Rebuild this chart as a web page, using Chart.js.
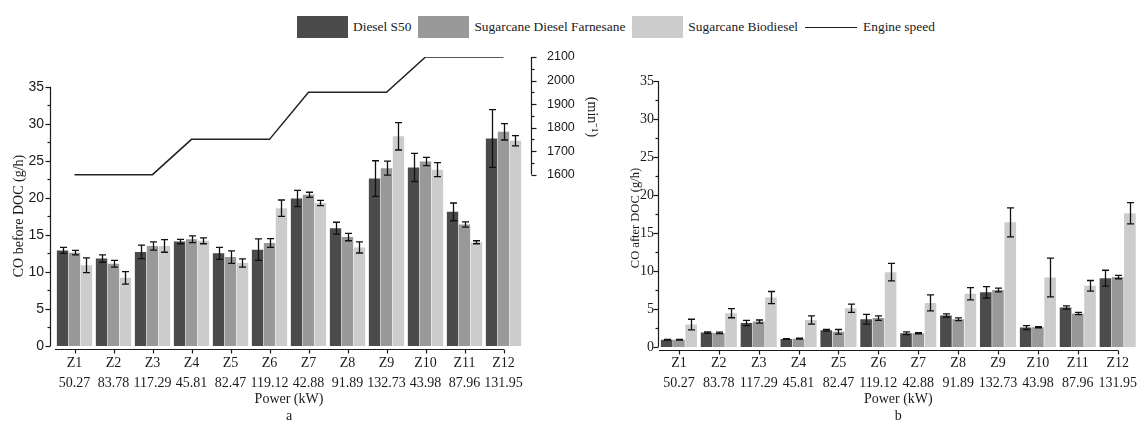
<!DOCTYPE html>
<html>
<head>
<meta charset="utf-8">
<title>CO before and after DOC</title>
<script src="https://cdn.jsdelivr.net/npm/chart.js@4.4.1/dist/chart.umd.min.js"></script>
<style>
    html, body {
        margin: 0;
        padding: 0;
        background: #fff;
        width: 1143px;
        height: 421px;
        overflow: hidden;
        position: relative;
    }
    #legend {
        position: absolute;
        left: 297px;
        top: 16px;
        height: 22px;
        display: flex;
        align-items: center;
        font: 13.4px "Liberation Serif", "Times New Roman", serif;
        color: #1a1a1a;
        white-space: nowrap;
    }
    #legend .item { display: flex; align-items: center; margin-right: 7px; }
    #legend .box { width: 51px; height: 22px; margin-right: 5px; }
    #legend .line { width: 52px; border-top: 1.5px solid #1a1a1a; margin-right: 6px; }
    canvas { position: absolute; top: 0; }
    #co-before { left: 0; }
    #co-after { left: 610px; }
</style>
</head>
<body>
<div id="legend"></div>
<canvas id="co-before" width="610" height="430"></canvas>
<canvas id="co-after" width="533" height="430"></canvas>
<script>
const zones = ['Z1', 'Z2', 'Z3', 'Z4', 'Z5', 'Z6', 'Z7', 'Z8', 'Z9', 'Z10', 'Z11', 'Z12'];
const powerKw = ['50.27', '83.78', '117.29', '45.81', '82.47', '119.12', '42.88', '91.89', '132.73', '43.98', '87.96', '131.95'];
const engineSpeed = [1600, 1600, 1600, 1750, 1750, 1750, 1950, 1950, 1950, 2100, 2100, 2100];
const speedTicks = [1600, 1700, 1800, 1900, 2000, 2100];

// CO before DOC (g/h), mean and error
const beforeS50 = [12.9, 11.8, 12.7, 14.1, 12.5, 13.0, 19.9, 15.9, 22.6, 24.1, 18.1, 28.0];
const beforeS50Err = [0.4, 0.5, 0.9, 0.3, 0.8, 1.45, 1.1, 0.8, 2.4, 1.9, 1.2, 3.9];
const beforeFarnesane = [12.6, 11.1, 13.5, 14.4, 12.0, 13.9, 20.4, 14.7, 24.0, 24.9, 16.4, 28.9];
const beforeFarnesaneErr = [0.3, 0.45, 0.55, 0.45, 0.85, 0.6, 0.35, 0.5, 0.95, 0.55, 0.35, 1.1];
const beforeBiodiesel = [10.9, 9.2, 13.5, 14.2, 11.2, 18.6, 19.3, 13.3, 28.3, 23.8, 14.0, 27.7];
const beforeBiodieselErr = [1.0, 0.85, 0.85, 0.4, 0.55, 1.1, 0.35, 0.75, 1.85, 0.95, 0.2, 0.7];

// CO after DOC (g/h), mean and error
const afterS50 = [0.95, 1.9, 3.15, 1.05, 2.2, 3.65, 1.8, 4.15, 7.2, 2.55, 5.2, 9.05];
const afterS50Err = [0.05, 0.1, 0.35, 0.05, 0.1, 0.65, 0.18, 0.2, 0.75, 0.25, 0.2, 1.05];
const afterFarnesane = [0.95, 1.85, 3.35, 1.1, 2.0, 3.8, 1.8, 3.65, 7.5, 2.6, 4.4, 9.2];
const afterFarnesaneErr = [0.05, 0.1, 0.2, 0.05, 0.3, 0.3, 0.08, 0.18, 0.25, 0.08, 0.15, 0.22];
const afterBiodiesel = [2.95, 4.45, 6.5, 3.55, 5.1, 9.85, 5.8, 7.0, 16.4, 9.15, 8.05, 17.6];
const afterBiodieselErr = [0.7, 0.6, 0.8, 0.55, 0.55, 1.15, 1.05, 0.8, 1.9, 2.55, 0.7, 1.4];

const fuelNames = ['Diesel S50', 'Sugarcane Diesel Farnesane', 'Sugarcane Biodiesel'];
const fuelColors = ['#4b4b4b', '#999999', '#cccccc'];

const SERIF = '"Liberation Serif", "Times New Roman", serif';
const SANS = '"Liberation Sans", Arial, sans-serif';
const INK = '#1a1a1a';

Chart.defaults.color = INK;

function buildLegend() {
    const legend = document.getElementById('legend');
    fuelNames.forEach((name, i) => {
        const item = document.createElement('div');
        item.className = 'item';
        item.innerHTML = `<span class="box" style="background:${fuelColors[i]}"></span><span>${name}</span>`;
        legend.appendChild(item);
    });
    const speed = document.createElement('div');
    speed.className = 'item';
    speed.innerHTML = '<span class="line"></span><span>Engine speed</span>';
    legend.appendChild(speed);
}

// whisker for every bar that carries an `errors` array
const errorBars = {
    id: 'errorBars',
    afterDatasetsDraw(chart) {
        const { ctx } = chart;
        ctx.save();
        ctx.strokeStyle = '#111';
        ctx.lineWidth = 1.3;
        chart.data.datasets.forEach((ds, i) => {
            if (!ds.errors) {
                return;
            }
            const meta = chart.getDatasetMeta(i);
            const scale = chart.scales[meta.yAxisID];
            meta.data.forEach((bar, j) => {
                const value = ds.data[j];
                const err = ds.errors[j];
                const top = scale.getPixelForValue(value + err);
                const bottom = scale.getPixelForValue(value - err);
                const x = Math.round(bar.x) + 0.5;
                ctx.beginPath();
                ctx.moveTo(x, top);
                ctx.lineTo(x, bottom);
                ctx.moveTo(x - 3.5, top);
                ctx.lineTo(x + 3.5, top);
                ctx.moveTo(x - 3.5, bottom);
                ctx.lineTo(x + 3.5, bottom);
                ctx.stroke();
            });
        });
        ctx.restore();
    },
};

// axis lines with major/minor ticks, detached category axis and rotated titles
function axisFrame(cfg) {
    return {
        id: 'axisFrame',
        afterDraw(chart) {
            const { ctx, chartArea, scales } = chart;
            const seg = (x1, y1, x2, y2) => {
                ctx.beginPath();
                ctx.moveTo(x1, y1);
                ctx.lineTo(x2, y2);
                ctx.stroke();
            };
            ctx.save();
            ctx.strokeStyle = INK;
            ctx.lineWidth = 1.2;

            cfg.axes.forEach((a) => {
                const scale = scales[a.scale];
                const x = Math.round(a.side < 0 ? chartArea.left - a.gap : chartArea.right + a.gap) + 0.5;
                seg(x, scale.getPixelForValue(a.to), x, scale.getPixelForValue(a.from));
                for (let v = a.from; v <= a.to + 1e-6; v += a.minor) {
                    const isMajor = Math.abs((v - a.from) % a.major) < 1e-6;
                    const len = isMajor ? 5 : 3;
                    const y = Math.round(scale.getPixelForValue(v)) + 0.5;
                    seg(x, y, x + a.side * len, y);
                }
            });

            const xs = scales.x;
            const baseY = Math.round(chartArea.bottom + cfg.baseGap) + 0.5;
            const lastX = xs.getPixelForValue(zones.length - 1);
            seg(chartArea.left, baseY, lastX + 0.5, baseY);
            zones.forEach((z, i) => {
                const x = Math.round(xs.getPixelForValue(i)) + 0.5;
                seg(x, baseY, x, baseY + 4);
            });

            ctx.fillStyle = INK;
            ctx.textAlign = 'center';
            ctx.textBaseline = 'middle';
            cfg.titles.forEach((t) => {
                ctx.save();
                ctx.translate(t.x, t.y);
                ctx.rotate(t.rotation);
                ctx.font = `${t.size}px ${SERIF}`;
                ctx.fillText(t.text, 0, 0);
                ctx.restore();
            });
            ctx.restore();
        },
    };
}

function barSets(values, errors) {
    return values.map((data, i) => ({
        type: 'bar',
        label: fuelNames[i],
        data,
        errors: errors[i],
        yAxisID: 'y',
        backgroundColor: fuelColors[i],
        borderWidth: 0,
        barPercentage: 0.95,
        categoryPercentage: 0.92,
        order: 2,
    }));
}

function categoryAxis(height, tickPadding, caption) {
    return {
        type: 'category',
        offset: true,
        grid: { display: false, drawTicks: false },
        border: { display: false },
        ticks: {
            autoSkip: false,
            maxRotation: 0,
            padding: tickPadding,
            font: { family: SERIF, size: 14, lineHeight: 20 / 14 },
        },
        title: {
            display: true,
            text: ['Power (kW)', caption],
            font: { family: SERIF, size: 14, lineHeight: 17 / 14 },
            padding: { top: 0, bottom: 5.5 },
        },
        afterFit(scale) {
            scale.height = height;
        },
    };
}

const labels = zones.map((z, i) => [z, powerKw[i]]);

function drawBefore() {
    const ctx = document.getElementById('co-before').getContext('2d');
    new Chart(ctx, {
        type: 'bar',
        data: {
            labels,
            datasets: [
                {
                    type: 'line',
                    label: 'Engine speed',
                    data: engineSpeed,
                    yAxisID: 'y2',
                    borderColor: '#222',
                    borderWidth: 1.5,
                    pointRadius: 0,
                    tension: 0,
                    fill: false,
                    order: 1,
                },
                ...barSets(
                    [beforeS50, beforeFarnesane, beforeBiodiesel],
                    [beforeS50Err, beforeFarnesaneErr, beforeBiodieselErr],
                ),
            ],
        },
        options: {
            responsive: false,
            animation: false,
            layout: { padding: { top: 57, left: 0, right: 0, bottom: 0 } },
            plugins: {
                legend: { display: false },
                tooltip: { enabled: false },
            },
            scales: {
                x: categoryAxis(84, 7, 'a'),
                y: {
                    position: 'left',
                    min: 0,
                    max: 39,
                    grid: { display: false, drawTicks: false },
                    border: { display: false },
                    ticks: {
                        stepSize: 5,
                        padding: 11,
                        font: { family: SANS, size: 14 },
                    },
                    afterBuildTicks(scale) {
                        scale.ticks = scale.ticks.filter((t) => t.value <= 35);
                    },
                    afterFit(scale) {
                        scale.width = 55;
                    },
                },
                y2: {
                    position: 'right',
                    min: 872,
                    max: 2100,
                    grid: { display: false, drawTicks: false },
                    border: { display: false },
                    ticks: {
                        padding: 24,
                        font: { family: SANS, size: 12.5 },
                        callback: (value) => String(value),
                    },
                    afterBuildTicks(scale) {
                        scale.ticks = speedTicks.map((value) => ({ value }));
                    },
                    afterFit(scale) {
                        scale.width = 87;
                    },
                },
            },
        },
        plugins: [
            errorBars,
            axisFrame({
                baseGap: 3,
                axes: [
                    { scale: 'y', side: -1, gap: 5, from: 0, to: 35, major: 5, minor: 2.5 },
                    { scale: 'y2', side: 1, gap: 8, from: 1600, to: 2100, major: 100, minor: 50 },
                ],
                titles: [
                    { text: 'CO before DOC (g/h)', x: 19, y: 216, rotation: -Math.PI / 2, size: 14 },
                    { text: '(min\u207B\u00B9)', x: 592, y: 117, rotation: Math.PI / 2, size: 14 },
                ],
            }),
        ],
    });
}

function drawAfter() {
    const ctx = document.getElementById('co-after').getContext('2d');
    new Chart(ctx, {
        type: 'bar',
        data: {
            labels,
            datasets: barSets(
                [afterS50, afterFarnesane, afterBiodiesel],
                [afterS50Err, afterFarnesaneErr, afterBiodieselErr],
            ),
        },
        options: {
            responsive: false,
            animation: false,
            layout: { padding: { top: 81, left: 0, right: 2, bottom: 0 } },
            plugins: {
                legend: { display: false },
                tooltip: { enabled: false },
            },
            scales: {
                x: categoryAxis(83, 6, 'b'),
                y: {
                    position: 'left',
                    min: 0,
                    max: 35,
                    grid: { display: false, drawTicks: false },
                    border: { display: false },
                    ticks: {
                        stepSize: 5,
                        padding: 5,
                        font: { family: SERIF, size: 14 },
                    },
                    afterFit(scale) {
                        scale.width = 49;
                    },
                },
            },
        },
        plugins: [
            errorBars,
            axisFrame({
                baseGap: 3,
                axes: [
                    { scale: 'y', side: -1, gap: 1, from: 0, to: 35, major: 5, minor: 2.5 },
                ],
                titles: [
                    { text: 'CO after DOC (g/h)', x: 26, y: 218, rotation: -Math.PI / 2, size: 12.5 },
                ],
            }),
        ],
    });
}

buildLegend();
drawBefore();
drawAfter();
</script>
</body>
</html>
